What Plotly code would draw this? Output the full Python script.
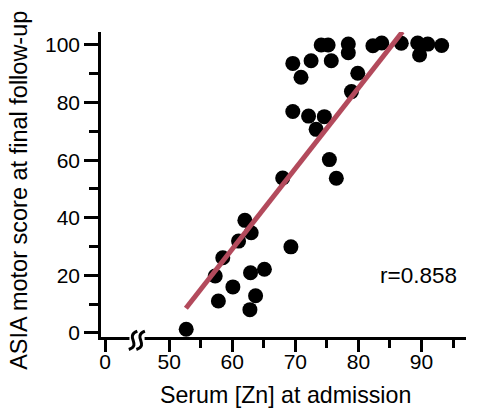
import plotly.graph_objects as go

# Data
serum_zn = [52.7, 57.8, 57.3, 58.5, 60.1, 61.0, 62.0, 63.0, 62.9, 65.1, 63.7, 62.8,
            69.3, 68.0, 76.5, 75.4, 69.6, 72.1, 74.6, 73.3, 78.9, 79.9, 70.9, 69.6,
            72.5, 75.7, 74.1, 75.2, 78.4, 78.4, 82.3, 83.7, 86.8, 89.4, 91.0, 89.7, 93.2]
asia_score = [1.3, 11.1, 19.8, 26.1, 16.0, 31.9, 39.1, 34.8, 20.9, 22.1, 12.9, 8.1,
              29.9, 53.8, 53.7, 60.2, 76.9, 75.3, 75.1, 70.7, 83.8, 90.2, 88.8, 93.6,
              94.5, 94.5, 100.0, 100.0, 100.3, 97.3, 99.7, 100.7, 100.6, 100.7, 100.3, 96.5, 99.8]
fit_x = [52.65, 86.99]
fit_y = [8.6, 104.6]
r_label = "r=0.858"

x_tick_vals = [39.83, 50, 60, 70, 80, 90]
x_tick_text = ["0", "50", "60", "70", "80", "90"]
x_minor_vals = [55, 65, 75, 85, 95]
y_tick_vals = [0, 20, 40, 60, 80, 100]
y_minor_vals = [10, 30, 50, 70, 90]

FONT = "Liberation Sans, Arial, Helvetica, sans-serif"

fig = go.Figure()
fig.add_trace(go.Scatter(x=serum_zn, y=asia_score, mode="markers",
                         marker=dict(color="black", size=15),
                         cliponaxis=False, showlegend=False))
fig.add_trace(go.Scatter(x=fit_x, y=fit_y, mode="lines",
                         line=dict(color="#B34A5C", width=5),
                         cliponaxis=False, showlegend=False))

# axis break marks
fig.add_shape(type="rect", xref="x", yref="paper", x0=43.7, x1=46.1, y0=-0.012, y1=0.012,
              fillcolor="white", line=dict(width=0), layer="above")
for dx in (0.0, 1.2):
    path = (f"M {44.95+dx},0.019 C {42.9+dx},0.002 {45.7+dx},-0.026 {43.6+dx},-0.041")
    fig.add_shape(type="path", xref="x", yref="paper", path=path,
                  line=dict(color="black", width=3), layer="above")

fig.add_annotation(x=89.6, y=20.1, xref="x", yref="y", text=r_label, showarrow=False,
                   font=dict(family=FONT, size=22.5, color="black"), xanchor="center", yanchor="middle")
fig.add_annotation(x=0.505, y=-0.189, xref="paper", yref="paper", text="Serum [Zn] at admission",
                   showarrow=False, font=dict(family=FONT, size=23.2, color="black"),
                   xanchor="center", yanchor="middle")
fig.add_annotation(x=-0.225, y=0.482, xref="paper", yref="paper",
                   text="ASIA motor score at final follow-up", textangle=-90,
                   showarrow=False, font=dict(family=FONT, size=23.5, color="black"),
                   xanchor="center", yanchor="middle")

fig.update_layout(
    width=478, height=408,
    margin=dict(l=101, r=12, t=32, b=71),
    plot_bgcolor="white", paper_bgcolor="white",
    font=dict(family=FONT, size=21, color="black"),
    xaxis=dict(range=[39.19, 97.06], showline=True, linecolor="black", linewidth=2.5,
               showgrid=False, zeroline=False, tickmode="array",
               tickvals=x_tick_vals, ticktext=x_tick_text,
               ticks="outside", ticklen=12, tickwidth=2.5, tickcolor="black",
               ticklabelstandoff=-8,
               minor=dict(tickmode="array", tickvals=x_minor_vals, ticks="outside",
                          ticklen=8, tickwidth=2.5, tickcolor="black", showgrid=False)),
    yaxis=dict(range=[-1.4, 104.5], showline=True, linecolor="black", linewidth=2.5,
               showgrid=False, zeroline=False, tickmode="array", tickvals=y_tick_vals,
               ticks="outside", ticklen=14, tickwidth=2.5, tickcolor="black",
               minor=dict(tickmode="array", tickvals=y_minor_vals, ticks="outside",
                          ticklen=9, tickwidth=2.5, tickcolor="black", showgrid=False)),
)

fig.write_html("out.html", config={"displayModeBar": False},
               post_script="document.body.style.margin='0';")
